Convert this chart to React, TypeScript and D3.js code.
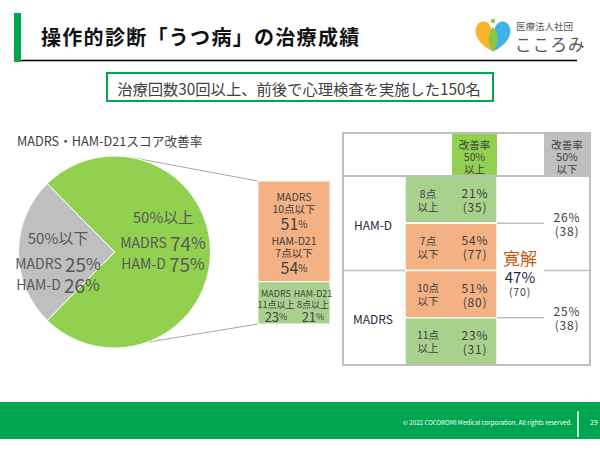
import React from 'react';
import * as d3 from 'd3';

// ---------- data ----------
const pieCategories = ['50%以上', '50%以下'];
const pieMadrs = [74, 25];
const pieHamd = [75, 26];

const barMadrsLabels = ['10点以下', '11点以上'];
const barMadrs = [51, 23];
const barHamdLabels = ['7点以下', '8点以上'];
const barHamd = [54, 21];

const tableScales = ['HAM-D', 'MADRS'];
const tableRowPoints = [['8点', '以上'], ['7点', '以下'], ['10点', '以下'], ['11点', '以上']];
const tableRowPct = [21, 54, 51, 23];
const tableRowN = [35, 77, 80, 31];
const tableRowRemission = [false, true, true, false];
const nonImprovedPct = [26, 25];
const nonImprovedN = [38, 38];
const remissionPct = 47;
const remissionN = 70;

const FONT = '"Noto Sans CJK JP", "Noto Sans", sans-serif';
const TXT = '#404040';
const BRAND = '#00A54F';
const PIE_GREEN = '#92D050';
const GRAY = '#BFBFBF';
const ORANGE = '#F4B183';
const LGREEN = '#A9D18E';

export default function App() {
  // ---- pie ----
  const cx = 114.5, cy = 252, R = 96;
  const total = pieMadrs[0] + pieMadrs[1];
  const grayFrac = pieMadrs[1] / total;
  const pieGen = d3.pie<number>().sort(null)
    .startAngle(-Math.PI / 2 + grayFrac * Math.PI)
    .endAngle(-Math.PI / 2 + grayFrac * Math.PI + 2 * Math.PI);
  const arcs = pieGen(pieMadrs);
  const arcGen = d3.arc<d3.PieArcDatum<number>>().innerRadius(0).outerRadius(R);
  const pt = (deg: number) => {
    const a = (deg * Math.PI) / 180;
    return [cx + R * Math.sin(a), cy - R * Math.cos(a)];
  };
  const topPt = pt(10);
  const botPt = pt(160);

  // ---- stacked bar ----
  const barX = 258, barW = 72;
  const segVals = barMadrs.map((v, i) => (v + barHamd[i]) / 2);
  const segTotal = d3.sum(segVals);
  const yBar = d3.scaleLinear().domain([0, segTotal]).range([181, 324]);
  const segColors = [ORANGE, LGREEN];
  let acc = 0;
  const segs = segVals.map((v, i) => {
    const s = { y0: yBar(acc), y1: yBar(acc + v), color: segColors[i] };
    acc += v;
    return s;
  });

  // ---- table ----
  const tX0 = 343, tX1 = 590, tY0 = 133, headerB = 176, tY1 = 365;
  const yRow = d3.scaleLinear().domain([0, 4]).range([headerB, tY1]);
  const colLabel = [343, 405], colCell = [405, 497], colRem = [497, 544], colNon = [544, 590];
  const ptsX = 428, valX = 475;

  const pieLabel = (x: number, y: number, name: string, v: number) => (
    <text x={x} y={y} textAnchor="middle" dominantBaseline="central" fill="#595959" fontFamily={FONT}>
      <tspan fontSize={14}>{name} </tspan>
      <tspan fontSize={19}>{v}</tspan>
      <tspan fontSize={16}>%</tspan>
    </text>
  );

  return (
    <svg width={600} height={450} style={{ position: 'absolute', left: 0, top: 0, background: '#fff' }} fontFamily={FONT}>
      <rect width={600} height={450} fill="#fff" />
      {/* title */}
      <rect x={14} y={13} width={7} height={49} fill={BRAND} />
      <text x={41} y={36} dominantBaseline="central" fontSize={20} fontWeight="bold" fill="#111" letterSpacing={1.3}>操作的診断「うつ病」の治療成績</text>
      <line x1={21} x2={577} y1={60.5} y2={60.5} stroke="#000" strokeWidth={1.5} />
      {/* logo */}
      <g>
        <path d="M492,51 C480,45 474,36 476,28 C478,20 487,19 491,27 C492,34 492,44 492,51 Z" fill="#F7B52C" />
        <path d="M494,51 C506,45 512,36 510,28 C508,20 499,19 495,27 C494,34 494,44 494,51 Z" fill="#3FB2E8" />
        <path d="M493,52 C487,45 487,33 493,27 C499,33 499,45 493,52 Z" fill="#8CC63F" />
        <circle cx={493} cy={21} r={2.2} fill="#8CC63F" />
        <text x={516} y={26} dominantBaseline="central" fontSize={9.5} fill="#555">医療法人社団</text>
        <text x={515} y={44} dominantBaseline="central" fontSize={16.5} fill="#555" letterSpacing={1.2}>こころみ</text>
      </g>
      {/* subtitle box */}
      <rect x={107} y={73} width={386} height={28} fill="#fff" stroke={BRAND} strokeWidth={2} />
      <text x={299} y={88} textAnchor="middle" dominantBaseline="central" fontSize={15.3} fill={TXT}>治療回数30回以上、前後で心理検査を実施した150名</text>

      {/* pie title */}
      <text x={17} y={140} dominantBaseline="central" fontSize={12.7} fill={TXT}>MADRS・HAM-D21スコア改善率</text>

      {/* connector lines */}
      <line x1={topPt[0]} y1={topPt[1]} x2={barX} y2={181} stroke="#A6A6A6" strokeWidth={1} />
      <line x1={botPt[0]} y1={botPt[1]} x2={barX} y2={324} stroke="#A6A6A6" strokeWidth={1} />

      {/* pie */}
      <g transform={`translate(${cx},${cy})`}>
        {arcs.map((a, i) => (
          <path key={pieCategories[i]} d={arcGen(a) || ''} fill={i === 0 ? PIE_GREEN : GRAY} stroke="#fff" strokeWidth={1} />
        ))}
      </g>
      <text x={163} y={216} textAnchor="middle" dominantBaseline="central" fontSize={15} fill="#595959">{pieCategories[0]}</text>
      {pieLabel(163, 242, 'MADRS', pieMadrs[0])}
      {pieLabel(163, 263, 'HAM-D', pieHamd[0])}
      <text x={58} y={237} textAnchor="middle" dominantBaseline="central" fontSize={15} fill="#595959">{pieCategories[1]}</text>
      {pieLabel(58, 263, 'MADRS', pieMadrs[1])}
      {pieLabel(58, 284, 'HAM-D', pieHamd[1])}

      {/* stacked bar */}
      {segs.map((s, i) => (
        <rect key={i} x={barX} y={s.y0} width={barW} height={s.y1 - s.y0} fill={s.color} stroke="#fff" strokeWidth={1} />
      ))}
      <g fill={TXT} textAnchor="middle" dominantBaseline="central">
        <text x={294} y={196} fontSize={10.5}>MADRS</text>
        <text x={294} y={208} fontSize={10.5}>{barMadrsLabels[0]}</text>
        <text x={294} y={223}><tspan fontSize={16}>{barMadrs[0]}</tspan><tspan fontSize={10}>%</tspan></text>
        <text x={294} y={240} fontSize={10.5}>HAM-D21</text>
        <text x={294} y={252} fontSize={10.5}>{barHamdLabels[0]}</text>
        <text x={294} y={267}><tspan fontSize={16}>{barHamd[0]}</tspan><tspan fontSize={10}>%</tspan></text>
        <text x={276} y={293} fontSize={9}>MADRS</text>
        <text x={276} y={304} fontSize={9}>{barMadrsLabels[1]}</text>
        <text x={276} y={316}><tspan fontSize={13}>{barMadrs[1]}</tspan><tspan fontSize={9}>%</tspan></text>
        <text x={313} y={293} fontSize={9}>HAM-D21</text>
        <text x={313} y={304} fontSize={9}>{barHamdLabels[1]}</text>
        <text x={313} y={316}><tspan fontSize={13}>{barHamd[1]}</tspan><tspan fontSize={9}>%</tspan></text>
      </g>

      {/* table */}
      <g>
        <rect x={452} y={tY0} width={colCell[1] - 452} height={headerB - tY0} fill={PIE_GREEN} />
        <rect x={colNon[0]} y={tY0} width={colNon[1] - colNon[0]} height={headerB - tY0} fill={GRAY} />
        <g fill={TXT} textAnchor="middle" dominantBaseline="central" fontSize={10.5}>
          {['改善率', '50%', '以上'].map((t, i) => <text key={i} x={474.5} y={144 + i * 12}>{t}</text>)}
          {['改善率', '50%', '以下'].map((t, i) => <text key={i} x={567} y={144 + i * 12}>{t}</text>)}
        </g>
        {tableRowPct.map((p, i) => {
          const mid = (yRow(i) + yRow(i + 1)) / 2;
          return (
            <g key={i}>
              <rect x={colCell[0]} y={yRow(i)} width={colCell[1] - colCell[0]} height={yRow(i + 1) - yRow(i)}
                fill={tableRowRemission[i] ? ORANGE : LGREEN} stroke="#fff" strokeWidth={1.5} />
              <text x={ptsX} y={mid - 6.5} textAnchor="middle" dominantBaseline="central" fontSize={10.5} fill={TXT}>{tableRowPoints[i][0]}</text>
              <text x={ptsX} y={mid + 6.5} textAnchor="middle" dominantBaseline="central" fontSize={10.5} fill={TXT}>{tableRowPoints[i][1]}</text>
              <text x={valX} y={mid - 7} textAnchor="middle" dominantBaseline="central" fontSize={12} letterSpacing={0.8} fill={TXT}>{p}%</text>
              <text x={valX} y={mid + 7} textAnchor="middle" dominantBaseline="central" fontSize={12} letterSpacing={0.8} fill={TXT}>({tableRowN[i]})</text>
            </g>
          );
        })}
        {tableScales.map((s, k) => (
          <text key={s} x={373} y={(yRow(2 * k) + yRow(2 * k + 2)) / 2 + 1} textAnchor="middle" dominantBaseline="central" fontSize={12} fill="#1F2A44">{s}</text>
        ))}
        {nonImprovedPct.map((p, k) => {
          const mid = (yRow(2 * k) + yRow(2 * k + 2)) / 2;
          return (
            <g key={k}>
              <text x={567} y={mid - 7} textAnchor="middle" dominantBaseline="central" fontSize={12} letterSpacing={0.8} fill={TXT}>{p}%</text>
              <text x={567} y={mid + 7} textAnchor="middle" dominantBaseline="central" fontSize={12} letterSpacing={0.8} fill={TXT}>({nonImprovedN[k]})</text>
            </g>
          );
        })}
        <text x={520} y={257} textAnchor="middle" dominantBaseline="central" fontSize={17} fill="#C55A11">寛解</text>
        <text x={520} y={276} textAnchor="middle" dominantBaseline="central" fontSize={15} fill="#1F2A44">{remissionPct}%</text>
        <text x={520} y={291.5} textAnchor="middle" dominantBaseline="central" fontSize={10.5} letterSpacing={0.8} fill={TXT}>({remissionN})</text>
        <line x1={tX0} x2={tX1} y1={headerB} y2={headerB} stroke={GRAY} strokeWidth={2} />
        <line x1={colLabel[0]} x2={colLabel[1]} y1={yRow(2)} y2={yRow(2)} stroke={GRAY} strokeWidth={1.5} />
        <line x1={colNon[0]} x2={colNon[1]} y1={yRow(2)} y2={yRow(2)} stroke={GRAY} strokeWidth={1.5} />
        <line x1={colRem[0]} x2={colRem[1]} y1={yRow(1)} y2={yRow(1)} stroke={GRAY} strokeWidth={1.5} />
        <line x1={colRem[0]} x2={colRem[1]} y1={yRow(3)} y2={yRow(3)} stroke={GRAY} strokeWidth={1.5} />
        <rect x={tX0} y={tY0} width={tX1 - tX0} height={tY1 - tY0} fill="none" stroke={GRAY} strokeWidth={2} />
      </g>

      {/* footer */}
      <rect x={0} y={402} width={600} height={37} fill={BRAND} />
      <text x={572} y={422} textAnchor="end" dominantBaseline="central" fontSize={6.2} fill="#fff">© 2022 COCOROMI Medical corporation. All rights reserved.</text>
      <line x1={578} x2={578} y1={411} y2={437} stroke="#fff" strokeWidth={1.5} />
      <text x={590} y={422} dominantBaseline="central" fontSize={7} fill="#fff">29</text>
    </svg>
  );
}
